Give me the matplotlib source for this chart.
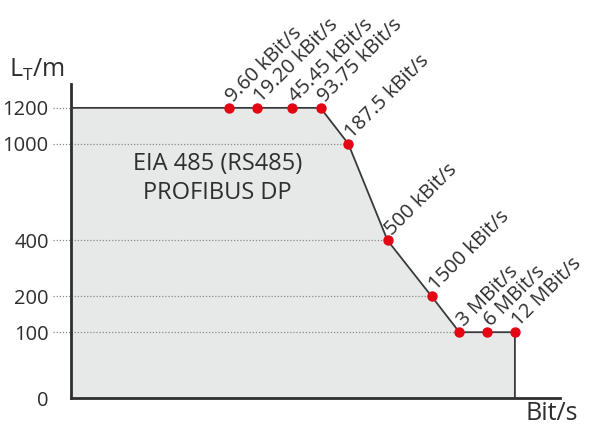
import matplotlib
matplotlib.use('Agg')
import matplotlib.pyplot as plt
import numpy as np

plt.rcParams['font.family'] = ['Open Sans', 'DejaVu Sans']
plt.rcParams['mathtext.fontset'] = 'custom'
plt.rcParams['mathtext.rm'] = 'Open Sans'

# data: baud rate (kBit/s) vs max. line length L_T (m)
rates = [9.6, 19.2, 45.45, 93.75, 187.5, 500, 1500, 3000, 6000, 12000]
lengths = [1200, 1200, 1200, 1200, 1000, 400, 200, 100, 100, 100]
rate_labels = ['9.60 kBit/s', '19.20 kBit/s', '45.45 kBit/s', '93.75 kBit/s',
               '187.5 kBit/s', '500 kBit/s', '1500 kBit/s',
               '3 MBit/s', '6 MBit/s', '12 MBit/s']
y_ticks = [0, 100, 200, 400, 1000, 1200]

# schematic (non-linear) length axis
y_knots = [0, 100, 200, 400, 1000, 1200, 1400]
y_pos = [0, 66, 102, 158, 255, 291, 327]

def fwd(v):
    return np.interp(v, y_knots, y_pos)

def inv(p):
    return np.interp(p, y_pos, y_knots)

dark = '#2e2e2e'
red = '#e30613'

fig = plt.figure(figsize=(5.93, 4.28), dpi=100)
ax = fig.add_axes([71 / 593, 30 / 428, (560 - 71) / 593, (398 - 84) / 428])
ax.set_xscale('log')
ax.set_yscale('function', functions=(fwd, inv))
xmin = 0.185
ax.set_xlim(xmin, 37000)
ax.set_ylim(0, 1333)

# grey area below the limit curve
xs = [xmin] + rates
ys = [1200] + lengths
ax.fill_between(xs, 0, ys, color='#e7e9e9', lw=0, zorder=1)
ax.plot(xs + [rates[-1]], ys + [0], color='#3a3a3a', lw=1.3, zorder=3)

# dotted guide lines up to the curve
ytr = ax.get_yaxis_transform()
for lev in y_ticks[1:]:
    ax.plot([-0.037, 0], [lev, lev], transform=ytr, color='#8a8a8a',
            lw=0.9, ls=(0, (1, 1.5)), clip_on=False, zorder=2)
    xend = rates[lengths.index(lev)]
    if lev != 1200:
        ax.plot([xmin, xend], [lev, lev], color='#8a8a8a', lw=0.9,
                ls=(0, (1, 1.5)), zorder=2)

ax.plot(rates, lengths, 'o', color=red, ms=7.5, mec='none', zorder=4)
for r, l, lab in zip(rates, lengths, rate_labels):
    ax.annotate(lab, (r, l), xytext=(3, 3.5), textcoords='offset points',
                rotation=45, rotation_mode='anchor', ha='left',
                va='baseline', fontsize=14.5, color=dark)

ax.text(0.30, 0.70, 'EIA 485 (RS485)\nPROFIBUS DP', transform=ax.transAxes,
        ha='center', va='center', fontsize=17, color=dark, linespacing=1.3)

ax.set_yticks(y_ticks)
ax.set_yticklabels([str(t) for t in y_ticks])
ax.set_xticks([])
ax.minorticks_off()
ax.tick_params(axis='y', length=0, pad=16, labelsize=14.5, labelcolor=dark)
ax.tick_params(axis='x', which='both', length=0, labelbottom=False)
for s in ['top', 'right']:
    ax.spines[s].set_visible(False)
for s in ['left', 'bottom']:
    ax.spines[s].set_color(dark)
    ax.spines[s].set_linewidth(2)

fig.text(9 / 593, 1 - 70 / 428, r'L$_{\mathrm{T}}$/m', fontsize=18,
         color=dark, ha='left', va='center')
fig.text(525 / 593, 1 - 414 / 428, 'Bit/s', fontsize=18, color=dark,
         ha='left', va='center')

fig.savefig('out.png', dpi=100)
